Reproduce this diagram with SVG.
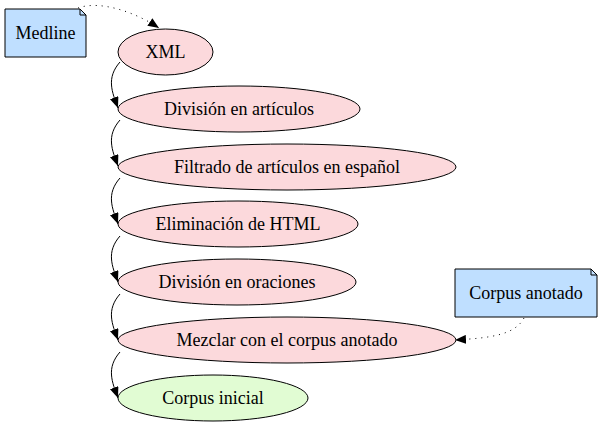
<svg xmlns="http://www.w3.org/2000/svg" width="603" height="428" viewBox="0 0 603 428">
<style>
text{font-family:'Liberation Serif','DejaVu Serif','Times New Roman',serif;font-size:18px;fill:#000;text-anchor:middle}
.p{fill:#fcd9dc;stroke:#000;stroke-width:1}
.g{fill:#e1fcd3;stroke:#000;stroke-width:1}
.n{fill:#bfdfff;stroke:#000;stroke-width:1}
.e{fill:none;stroke:#000;stroke-width:1}
.d{fill:none;stroke:#000;stroke-width:1;stroke-dasharray:1,5}
</style>
<defs>
<marker id="a" markerWidth="11" markerHeight="9" refX="11" refY="4.5" orient="auto" markerUnits="userSpaceOnUse"><path d="M0,0L11,4.5L0,9z" fill="#000"/></marker>
</defs>
<rect width="603" height="428" fill="#fff"/>
<g id="edges">
<path class="d" d="M78,8 C100,0 135,12 159,28" marker-end="url(#a)"/>
<path class="e" d="M120,62 C106,78 112,92 118,108" marker-end="url(#a)"/>
<path class="e" d="M120,120 C106,136 112,150 118,166" marker-end="url(#a)"/>
<path class="e" d="M120,178 C106,194 112,208 118,224" marker-end="url(#a)"/>
<path class="e" d="M120,236 C106,252 112,266 118,282" marker-end="url(#a)"/>
<path class="e" d="M120,294 C106,310 112,324 118,340" marker-end="url(#a)"/>
<path class="e" d="M120,352 C106,368 112,382 118,398" marker-end="url(#a)"/>
<path class="d" d="M524,318 C515,335 490,338 455,340" marker-end="url(#a)"/>
</g>
<g id="medline">
<path class="n" d="M5,9H80L86,15V57H5z"/><path class="e" d="M80,9V15H86"/>
<text x="45.500" y="39">Medline</text>
</g>
<g id="xml"><ellipse class="p" cx="165.500" cy="52" rx="47.500" ry="23"/><text x="165.500" y="58">XML</text></g>
<g id="division-articulos"><ellipse class="p" cx="239" cy="109" rx="121" ry="23"/><text x="239" y="115">División en artículos</text></g>
<g id="filtrado"><ellipse class="p" cx="287" cy="167" rx="169" ry="23"/><text x="287" y="173">Filtrado de artículos en español</text></g>
<g id="eliminacion"><ellipse class="p" cx="238" cy="224" rx="120" ry="23"/><text x="238" y="230">Eliminación de HTML</text></g>
<g id="division-oraciones"><ellipse class="p" cx="237" cy="282" rx="119" ry="23"/><text x="237" y="288">División en oraciones</text></g>
<g id="mezclar"><ellipse class="p" cx="287" cy="340" rx="169" ry="23"/><text x="287" y="346">Mezclar con el corpus anotado</text></g>
<g id="corpus-inicial"><ellipse class="g" cx="213" cy="398" rx="95" ry="23"/><text x="213" y="404">Corpus inicial</text></g>
<g id="corpus-anotado">
<path class="n" d="M455,269H591L597,275V317H455z"/><path class="e" d="M591,269V275H597"/>
<text x="526" y="299">Corpus anotado</text>
</g>
</svg>
